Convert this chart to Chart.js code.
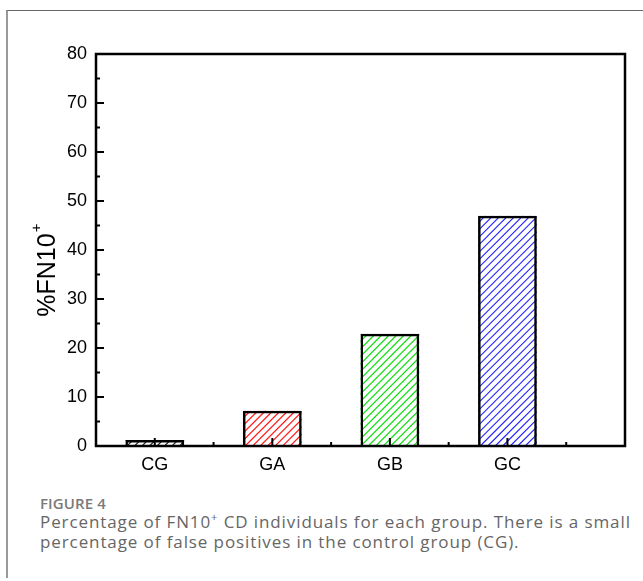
<!DOCTYPE html>
<html>
<head>
<meta charset="utf-8">
<script src="https://cdn.jsdelivr.net/npm/chart.js@4.4.0/dist/chart.umd.min.js"></script>
<style>
    body { margin: 0; background: #fff; width: 643px; height: 581px; overflow: hidden; position: relative; }
    #frame { position: absolute; left: 6px; top: 10px; width: 700px; height: 567px; border-left: 2px solid #999; border-top: 1px solid #666; }
    #chart { position: absolute; left: 0; top: 0; }
    .cap { position: absolute; left: 40px; font-family: "Open Sans", sans-serif; }
    #figno { top: 493px; font-size: 15px; font-weight: 600; color: #7a7a7a; letter-spacing: 0.1px; }
    #captext { top: 512px; font-size: 17px; line-height: 20px; color: #666; width: 602px; letter-spacing: 0.9px; }
</style>
</head>
<body>
<div id="frame"></div>
<canvas id="chart" width="643" height="490"></canvas>
<div class="cap" id="figno">FIGURE 4</div>
<div class="cap" id="captext">Percentage of FN10<sup style="font-size:11px;line-height:0">+</sup> CD individuals for each group. There is a small percentage of false positives in the control group (CG).</div>

<script>
const groups = ["CG", "GA", "GB", "GC"];
const positions = [1, 2, 3, 4];
const percentFN10 = [1.2, 7.2, 22.9, 47.0];
const hatchColors = ["#222222", "#ff2020", "#10e010", "#2020ff"];
const yTicks = [0, 10, 20, 30, 40, 50, 60, 70, 80];

// hatch each bar, then frame, inward ticks and the y title
const framePlugin = {
    id: "frame",
    beforeDatasetsDraw(chart) {
        const ctx = chart.ctx;
        chart.getDatasetMeta(0).data.forEach((bar, i) => {
            const p = bar.getProps(["x", "y", "base", "width"], true);
            const l = p.x - p.width / 2, r = p.x + p.width / 2;
            ctx.save();
            ctx.beginPath();
            ctx.rect(l, p.y, p.width, p.base - p.y);
            ctx.clip();
            ctx.strokeStyle = hatchColors[i];
            ctx.lineWidth = 1.2;
            ctx.beginPath();
            for (let s = l - (p.base - p.y); s < r + 8; s += 7.5) {
                ctx.moveTo(s, p.base);
                ctx.lineTo(s + (p.base - p.y), p.y);
            }
            ctx.stroke();
            ctx.restore();
        });
    },
    afterDatasetsDraw(chart) {
        const ctx = chart.ctx;
        const a = chart.chartArea;
        const x = chart.scales.x, y = chart.scales.y;
        ctx.save();
        ctx.strokeStyle = "#000";
        ctx.lineWidth = 2.5;
        ctx.strokeRect(a.left, a.top, a.right - a.left, a.bottom - a.top);

        ctx.lineWidth = 2;
        ctx.beginPath();
        for (let v = 0; v <= 80; v += 5) {
            const py = y.getPixelForValue(v);
            const len = v % 10 === 0 ? 8 : 4;
            ctx.moveTo(a.left, py); ctx.lineTo(a.left + len, py);
        }
        for (let v = 1; v <= 4.5; v += 0.5) {
            const px = x.getPixelForValue(v);
            const len = Number.isInteger(v) ? 8 : 4;
            ctx.moveTo(px, a.bottom); ctx.lineTo(px, a.bottom - len);
        }
        ctx.stroke();

        // y title with superscript
        ctx.translate(46, (a.top + a.bottom) / 2 + 25);
        ctx.rotate(-Math.PI / 2);
        ctx.fillStyle = "#000";
        ctx.textBaseline = "alphabetic";
        ctx.font = "25px 'Liberation Sans', Arial, sans-serif";
        const main = "%FN10";
        const w = ctx.measureText(main).width;
        ctx.fillText(main, -w / 2, 9);
        ctx.font = "15px 'Liberation Sans', Arial, sans-serif";
        ctx.fillText("+", w / 2 + 1, -5);
        ctx.restore();
    }
};

new Chart(document.getElementById("chart"), {
    type: "bar",
    data: {
        datasets: [{
            data: positions.map((p, i) => ({ x: p, y: percentFN10[i] })),
            backgroundColor: "rgba(0,0,0,0)",
            borderColor: "#000",
            borderWidth: 2.5,
            barPercentage: 0.5,
            categoryPercentage: 1
        }]
    },
    options: {
        responsive: false,
        animation: false,
        layout: { padding: { left: 0, top: 54, right: 18, bottom: 0 } },
        plugins: { legend: { display: false }, tooltip: { enabled: false } },
        scales: {
            x: {
                type: "linear",
                min: 0.5, max: 5,
                offset: false,
                afterFit(s) { s.height = 44; },
                afterBuildTicks(s) { s.ticks = positions.map(v => ({ value: v })); },
                grid: { display: false, drawTicks: false, offset: false },
                border: { display: false },
                ticks: {
                    padding: 8,
                    color: "#000",
                    font: { family: "'Liberation Sans', Arial, sans-serif", size: 18 },
                    callback: v => groups[positions.indexOf(v)] || ""
                }
            },
            y: {
                min: 0, max: 80,
                afterFit(s) { s.width = 96; },
                afterBuildTicks(s) { s.ticks = yTicks.map(v => ({ value: v })); },
                grid: { display: false, drawTicks: false },
                border: { display: false },
                ticks: {
                    padding: 9,
                    color: "#000",
                    font: { family: "'Liberation Sans', Arial, sans-serif", size: 18 }
                }
            }
        }
    },
    plugins: [framePlugin]
});
</script>
</body>
</html>
